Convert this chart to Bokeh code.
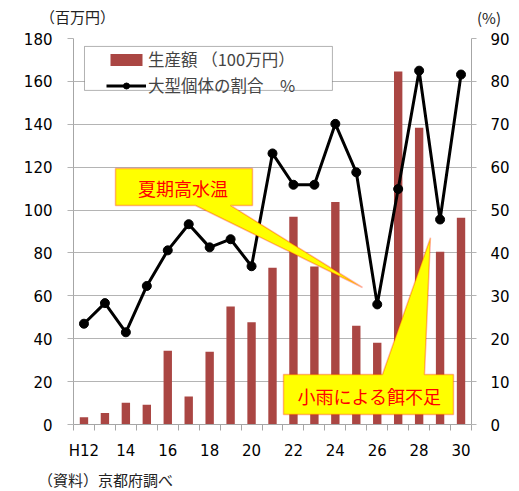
from bokeh.plotting import figure
from bokeh.layouts import column
from bokeh.models import (Range1d, LinearAxis, FixedTicker, ColumnDataSource, Legend, LegendItem,
                          BoxAnnotation, PolyAnnotation, Label, Div)
from bokeh.embed import file_html
from bokeh.resources import INLINE

# ---- data ----
years = ["H12", "13", "14", "15", "16", "17", "18", "19", "20", "21",
         "22", "23", "24", "25", "26", "27", "28", "29", "30"]
tick_labels = ["H12", "14", "16", "18", "20", "22", "24", "26", "28", "30"]
production = [3.4, 5.4, 10.1, 9.2, 34.4, 13.1, 33.9, 55.0, 47.7, 73.1,
              96.9, 73.7, 103.7, 46.0, 38.1, 164.6, 138.4, 80.5, 96.4]
large_ratio = [23.5, 28.3, 21.5, 32.3, 40.6, 46.7, 41.3, 43.2, 36.9, 63.2,
               55.9, 55.9, 70.1, 58.8, 28.0, 54.9, 82.5, 47.8, 81.6]
left_ticks = [0, 20, 40, 60, 80, 100, 120, 140, 160, 180]
right_ticks = [0, 10, 20, 30, 40, 50, 60, 70, 80, 90]

xs = list(range(1, len(years) + 1))
src = ColumnDataSource(dict(x=xs, prod=production, pct=large_ratio))

JP = "Noto Sans CJK JP"
NUM = "DejaVu Sans"
GRID = "#B4B4B4"
AXIS = "#A6A6A6"
BAR = "#AA4643"

W_LEFT, W_FRAME, W_RIGHT = 73, 398, 46
TOTAL_W = W_LEFT + W_FRAME + W_RIGHT

p = figure(frame_width=W_FRAME, frame_height=386, output_backend="svg", toolbar_location=None,
           x_range=Range1d(0.5, len(years) + 0.5), y_range=Range1d(0, 180),
           min_border_left=W_LEFT, min_border_right=W_RIGHT, min_border_top=10, min_border_bottom=38,
           x_axis_location=None, y_axis_location=None)
p.outline_line_color = None
p.background_fill_color = "white"
p.extra_y_ranges = {"pct": Range1d(0, 90)}

# axes
xax = LinearAxis(ticker=FixedTicker(ticks=[xs[i] for i in range(0, len(xs), 2)],
                                    minor_ticks=[v + 0.5 for v in range(0, len(xs) + 1)]))
xax.major_label_overrides = {xs[i]: tick_labels[i // 2] for i in range(0, len(xs), 2)}
xax.major_tick_out = 0
xax.major_tick_in = 0
xax.minor_tick_out = 6
xax.minor_tick_in = 0
xax.minor_tick_line_color = AXIS
xax.axis_line_color = AXIS
xax.major_label_text_font = NUM
xax.major_label_text_font_size = "15px"
xax.major_label_text_color = "black"
xax.major_label_standoff = 11
p.add_layout(xax, "below")

lax = LinearAxis(ticker=FixedTicker(ticks=left_ticks))
lax.major_tick_out = 6
lax.major_tick_in = 0
lax.minor_tick_line_color = None
lax.major_tick_line_color = GRID
lax.axis_line_color = AXIS
lax.major_label_text_font = NUM
lax.major_label_text_font_size = "15px"
lax.major_label_text_color = "black"
lax.major_label_standoff = 15
p.add_layout(lax, "left")

rax = LinearAxis(y_range_name="pct", ticker=FixedTicker(ticks=right_ticks))
rax.major_tick_out = 5
rax.major_tick_in = 0
rax.minor_tick_line_color = None
rax.major_tick_line_color = GRID
rax.axis_line_color = AXIS
rax.major_label_text_font = NUM
rax.major_label_text_font_size = "15px"
rax.major_label_text_color = "black"
rax.major_label_standoff = 14
p.add_layout(rax, "right")

p.xgrid.visible = False
p.ygrid.ticker = FixedTicker(ticks=left_ticks)
p.ygrid.grid_line_color = GRID

# glyphs
bars = p.vbar(x="x", top="prod", width=0.4, source=src, fill_color=BAR, line_color=None)
ln = p.line(x="x", y="pct", source=src, y_range_name="pct", line_color="black", line_width=3)
pts = p.scatter(x="x", y="pct", source=src, y_range_name="pct", size=9,
                fill_color="black", line_color="black")

# legend box + legend
p.add_layout(BoxAnnotation(left=1.025, right=12.86, top=176.3, bottom=155.8,
                           fill_color="white", fill_alpha=1.0, line_color="black", line_width=1))
legend = Legend(items=[LegendItem(label="生産額 （100万円）", renderers=[bars]),
                       LegendItem(label="大型個体の割合　%", renderers=[ln, pts])],
                location=(33, 327), padding=0, spacing=2, glyph_width=40, glyph_height=15,
                label_standoff=2, label_text_font=JP, label_text_font_size="16.5px",
                border_line_color=None, background_fill_alpha=0.0, margin=0)
p.add_layout(legend)

# callouts
p.add_layout(PolyAnnotation(xs=[2.505, 9.045, 9.045, 7.995, 14.296, 6.324, 2.505],
                            ys=[119.38, 119.38, 102.13, 102.13, 63.89, 102.13, 102.13],
                            fill_color="#FFFF00", fill_alpha=1.0, line_color="#FF0000", line_width=1.5))
p.add_layout(Label(x=5.73, y=110.5, text="夏期高水温", text_align="center", text_baseline="middle",
                   text_font=JP, text_font_size="18px", text_color="#FF0000"))
p.add_layout(PolyAnnotation(xs=[10.525, 15.25, 17.54, 17.255, 18.64, 18.64, 10.525],
                            ys=[23.32, 23.32, 87.07, 23.32, 23.32, 4.66, 4.66],
                            fill_color="#FFFF00", fill_alpha=1.0, line_color="#FF0000", line_width=1.5))
p.add_layout(Label(x=14.63, y=13.5, text="小雨による餌不足", text_align="center", text_baseline="middle",
                   text_font=JP, text_font_size="18px", text_color="#FF0000"))

# unit labels (top) and source note (bottom) as real HTML text
TXT = "font-family:'Noto Sans CJK JP';line-height:20px;color:#222222;white-space:nowrap;"
top = Div(width=TOTAL_W, height=28, margin=0,
          text=(f'<div style="position:relative;width:{TOTAL_W}px;height:28px;">'
                f'<span style="position:absolute;left:40px;top:7px;font-size:15px;{TXT}">（百万円）</span>'
                f'<span style="position:absolute;left:477px;top:8px;font-size:15px;{TXT}">(%)</span></div>'))
bottom = Div(width=TOTAL_W, height=27, margin=0,
             text=(f'<div style="position:relative;width:{TOTAL_W}px;height:27px;">'
                   f'<span style="position:absolute;left:38px;top:8px;font-size:15px;{TXT}">（資料）京都府調べ</span></div>'))

layout = column(top, p, bottom, spacing=0)
open("out.html", "w").write(file_html(layout, INLINE))
